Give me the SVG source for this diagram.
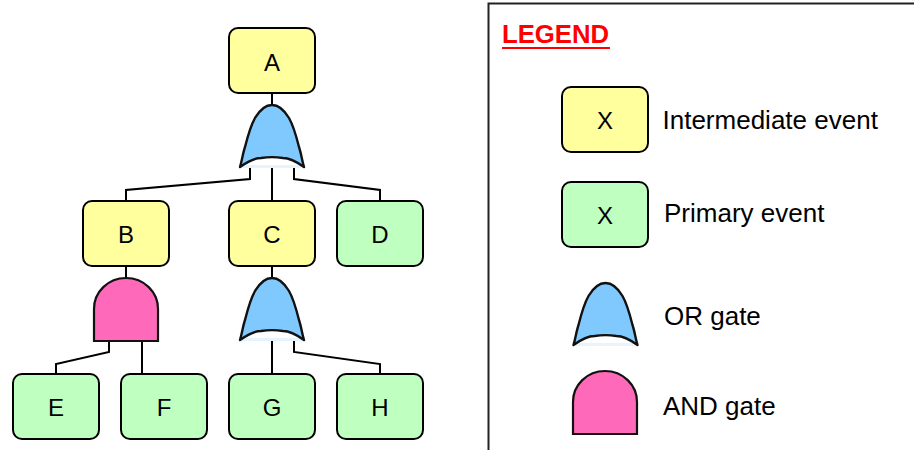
<svg xmlns="http://www.w3.org/2000/svg" width="914" height="450" viewBox="0 0 914 450">
<style>
text{font-family:"Liberation Sans",Arial,sans-serif;fill:#000}
.n{font-size:24px;text-anchor:middle}
.l{font-size:26px}
.i{fill:#ffff9e;stroke:#000;stroke-width:2}
.p{fill:#bfffbf;stroke:#000;stroke-width:2}
.c{fill:none;stroke:#000;stroke-width:2}
.base{fill:#e6f4ff}
.or{fill:#80c9ff;stroke:#111;stroke-width:2.4;stroke-linejoin:round}
.and{fill:#ff69b9;stroke:#111;stroke-width:2.2}
</style>
<defs>
<g id="orgate">
<rect class="base" x="2" y="60" width="60" height="3"/>
<path class="or" d="M0 62C2 55 3 48 5 42C8 30 11 20 15 13C18 8 23 0 32 0C41 0 46 8 49 13C53 20 56 30 59 42C61 48 62 55 64 62C57 57 50 53 43 53C37 52 27 52 21 53C14 53 7 57 0 62Z"/>
</g>
<path id="andgate" class="and" d="M0 63V31C0 14 14 0 32 0C50 0 64 14 64 31V63Z"/>
</defs>
<g id="connectors">
<path class="c" d="M272 93V105M272 168V201M250 168V179L126 190V201M294 168V179L380 190V201M126 266V278M272 266V278M272 341V374M109 341V352L56 364V374M142 341V374M294 341V352L380 364V374"/>
</g>
<g id="node-A"><rect class="i" x="229" y="28" width="86" height="65" rx="9"/><text class="n" x="272" y="71">A</text></g>
<g id="gate-or-1"><use href="#orgate" x="240" y="105"/></g>
<g id="node-B"><rect class="i" x="83" y="201" width="86" height="65" rx="9"/><text class="n" x="126" y="243">B</text></g>
<g id="node-C"><rect class="i" x="229" y="201" width="86" height="65" rx="9"/><text class="n" x="272" y="243">C</text></g>
<g id="node-D"><rect class="p" x="337" y="201" width="86" height="65" rx="9"/><text class="n" x="380" y="243">D</text></g>
<g id="gate-and"><use href="#andgate" x="94" y="278"/></g>
<g id="gate-or-2"><use href="#orgate" x="240" y="278"/></g>
<g id="node-E"><rect class="p" x="13" y="374" width="86" height="65" rx="9"/><text class="n" x="56" y="416">E</text></g>
<g id="node-F"><rect class="p" x="121" y="374" width="86" height="65" rx="9"/><text class="n" x="164" y="416">F</text></g>
<g id="node-G"><rect class="p" x="229" y="374" width="86" height="65" rx="9"/><text class="n" x="272" y="416">G</text></g>
<g id="node-H"><rect class="p" x="337" y="374" width="86" height="65" rx="9"/><text class="n" x="380" y="416">H</text></g>
<g id="legend">
<path d="M488.500 450V3.500H914" fill="none" stroke="#222" stroke-width="2"/>
<text x="502" y="43" style="font-size:25.700px;font-weight:bold;fill:#f00">LEGEND</text>
<rect x="502" y="47" width="108" height="2" fill="#f00"/>
<g id="legend-intermediate"><rect class="i" x="562" y="87" width="86" height="65" rx="9"/><text class="n" x="605" y="129">X</text><text class="l" x="662.500" y="129">Intermediate event</text></g>
<g id="legend-primary"><rect class="p" x="562" y="182" width="86" height="65" rx="9"/><text class="n" x="605" y="224">X</text><text class="l" x="664" y="222">Primary event</text></g>
<g id="legend-or"><use href="#orgate" x="573.500" y="283"/><text class="l" x="664" y="325">OR gate</text></g>
<g id="legend-and"><use href="#andgate" x="573" y="371"/><text class="l" x="663" y="415">AND gate</text></g>
</g>
</svg>
